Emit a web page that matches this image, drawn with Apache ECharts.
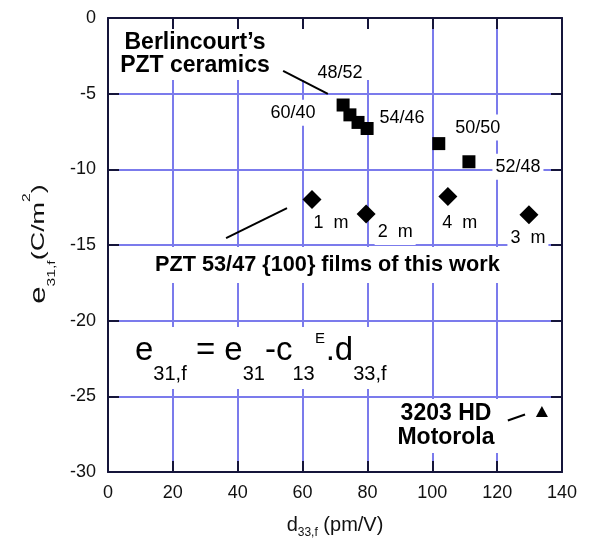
<!DOCTYPE html>
<html><head><meta charset="utf-8">
<script src="https://cdn.jsdelivr.net/npm/echarts@6.0.0/dist/echarts.min.js"></script>
<style>html,body{margin:0;padding:0;background:#fff}#c{width:589px;height:543px}</style>
</head><body><div id="c"></div>
<script>
const FONT = '"Liberation Sans", Arial, Helvetica, sans-serif';

// ---- data ----
const berlincourtX = [72.5, 74.6, 77.1, 79.9, 102.0, 111.3];
const berlincourtY = [-5.75, -6.4, -6.9, -7.3, -8.3, -9.5];
const berlincourtLabels = ['48/52', '60/40', '', '54/46', '50/50', '52/48'];

const filmX = [62.9, 79.6, 104.8, 129.8];
const filmY = [-12.0, -12.95, -11.8, -13.0];
const filmLabels = ['1  m', '2  m', '4  m', '3  m'];

const motorolaX = [133.8];
const motorolaY = [-26.0];

// connector lines (data coordinates): [x1, y1, x2, y2]
const connectorBerlincourt = [54.0, -3.5, 67.8, -5.02];
const connectorFilms = [36.4, -14.54, 55.2, -12.56];
const connectorMotorola = [123.3, -26.6, 128.6, -26.2];

// ---- styles ----
const GRID_COLOR = '#7b7bec';
const AX = '#15153a';
const sqLabelOffsets = [[-3, -32], [-57, -2], [0, 0], [35, -10], [39, -16], [49, 5]];
const dmLabelOffsets = [[19, 23], [29, 18], [12, 26], [-1, 23]];

const chart = echarts.init(document.getElementById('c'), null, {renderer: 'canvas'});

function axisBase(extra) {
  return Object.assign({
    type: 'value',
    axisLine: {show: true, onZero: false, lineStyle: {color: AX, width: 2}},
    axisTick: {show: true, inside: true, length: 11, lineStyle: {color: AX, width: 2}},
    axisLabel: {show: false},
    splitLine: {show: false},
    z: 5
  }, extra);
}
function gridAxis(extra) {
  return Object.assign({
    type: 'value',
    axisLine: {show: false}, axisTick: {show: false}, axisLabel: {show: false},
    splitLine: {show: true, lineStyle: {color: GRID_COLOR, width: 2}},
    z: 0
  }, extra);
}

const labelBase = {fontSize: 18, color: '#000', fontFamily: FONT, backgroundColor: '#fff', padding: [4, 3]};
const tickLabel = {show: true, fontSize: 18, color: '#111', fontFamily: FONT, margin: 12};

const option = {
  animation: false,
  backgroundColor: '#fff',
  grid: {left: 108, right: 27, top: 18, bottom: 71, outerBoundsMode: 'none'},
  xAxis: [
    axisBase({
      min: 0, max: 140, interval: 20, position: 'bottom',
      axisLabel: tickLabel,
      name: '{d|d}{s|33,f}{n| (pm/V)}',
      nameLocation: 'middle', nameGap: 39,
      nameTextStyle: {
        fontFamily: FONT, color: '#111',
        rich: {
          d: {fontSize: 20, lineHeight: 28, fontFamily: FONT, color: '#111'},
          s: {fontSize: 12, lineHeight: 12, verticalAlign: 'bottom', fontFamily: FONT, color: '#111'},
          n: {fontSize: 20, lineHeight: 28, fontFamily: FONT, color: '#111'}
        }
      }
    }),
    axisBase({min: 0, max: 140, interval: 20, position: 'top'}),
    gridAxis({min: 0, max: 140, interval: 20, position: 'bottom'})
  ],
  yAxis: [
    axisBase({min: -30, max: 0, interval: 5, position: 'left', axisLabel: tickLabel}),
    axisBase({min: -30, max: 0, interval: 5, position: 'right'}),
    gridAxis({min: -30, max: 0, interval: 5, position: 'left'})
  ],
  series: [
    {
      type: 'scatter', name: 'Berlincourt PZT ceramics', xAxisIndex: 0, yAxisIndex: 0,
      symbol: 'rect', symbolSize: 13, itemStyle: {color: '#000', opacity: 1}, z: 3,
      label: Object.assign({position: 'inside'}, labelBase),
      data: berlincourtX.map((x, i) => ({
        value: [x, berlincourtY[i]],
        label: {show: !!berlincourtLabels[i], formatter: berlincourtLabels[i], offset: sqLabelOffsets[i]}
      })),
      markLine: {
        silent: true, animation: false, symbol: ['none', 'none'],
        lineStyle: {color: '#000', width: 2, type: 'solid', opacity: 1},
        label: {show: false},
        data: [connectorBerlincourt, connectorFilms, connectorMotorola].map(c => [
          {coord: [c[0], c[1]]}, {coord: [c[2], c[3]]}
        ])
      }
    },
    {
      type: 'scatter', name: 'PZT 53/47 {100} films', xAxisIndex: 0, yAxisIndex: 0,
      symbol: 'diamond', symbolSize: 19, itemStyle: {color: '#000', opacity: 1}, z: 3,
      label: Object.assign({position: 'inside'}, labelBase),
      data: filmX.map((x, i) => ({
        value: [x, filmY[i]],
        label: {show: true, formatter: filmLabels[i], offset: dmLabelOffsets[i]}
      }))
    },
    {
      type: 'scatter', name: '3203 HD Motorola', xAxisIndex: 0, yAxisIndex: 0,
      symbol: 'triangle', symbolSize: [12, 11], itemStyle: {color: '#000', opacity: 1}, z: 3,
      data: motorolaX.map((x, i) => [x, motorolaY[i]])
    }
  ],
  graphic: [
    // white backing of the Berlincourt caption
    {type: 'rect', z: 1, shape: {x: 109, y: 19, width: 260, height: 61}, style: {fill: '#fff'}},
    {
      type: 'text', x: 195, y: 54, z: 2,
      style: {
        text: "Berlincourt\u2019s\nPZT ceramics", fontFamily: FONT, fontWeight: 'bold', fontSize: 23,
        lineHeight: 23, fill: '#000', align: 'center', verticalAlign: 'middle'
      }
    },
    {
      type: 'text', x: 147, y: 265, z: 2,
      style: {
        text: 'PZT 53/47 {100} films of this work', fontFamily: FONT, fontWeight: 'bold', fontSize: 21.7,
        lineHeight: 24, fill: '#000', align: 'left', verticalAlign: 'middle',
        backgroundColor: '#fff', padding: [6, 8]
      }
    },
    // white backing of the formula
    {type: 'rect', z: 1, shape: {x: 128, y: 327, width: 268, height: 62}, style: {fill: '#fff'}},
    {
      type: 'text', x: 135, y: 351, z: 2,
      style: {
        text: '{e|e}{s|31,f}{e| = e}{s|31}{e|-c}{s|13}{g| }{e|.d}{s|33,f}',
        fontFamily: FONT, fill: '#000', align: 'left', verticalAlign: 'middle',
        rich: {
          e: {fontSize: 33, lineHeight: 66, fontFamily: FONT, fill: '#000'},
          s: {fontSize: 20, lineHeight: 24, verticalAlign: 'bottom', fontFamily: FONT, fill: '#000'},
          g: {fontSize: 15, width: 11, lineHeight: 15, fontFamily: FONT, fill: '#000'}
        }
      }
    },
    {
      type: 'text', x: 315, y: 339, z: 2,
      style: {
        text: 'E', fontFamily: FONT, fontSize: 15, fill: '#000', align: 'left', verticalAlign: 'middle'
      }
    },
    {
      type: 'text', x: 446, y: 426, z: 2,
      style: {
        text: '3203 HD\nMotorola', fontFamily: FONT, fontWeight: 'bold', fontSize: 23,
        lineHeight: 24, fill: '#000', align: 'center', verticalAlign: 'middle',
        backgroundColor: '#fff', padding: [3, 4]
      }
    },
    // y-axis title
    {
      type: 'text', x: 39, y: 244, z: 2, rotation: Math.PI / 2, scaleX: 1.42,
      style: {
        text: '{e|e}{s|31,f}{n|(C/m}{p|2}{n|)}',
        fontFamily: FONT, fill: '#111', align: 'center', verticalAlign: 'middle',
        rich: {
          e: {fontSize: 22, lineHeight: 36, fontFamily: FONT, fill: '#111'},
          s: {fontSize: 11, lineHeight: 21, verticalAlign: 'bottom', fontFamily: FONT, fill: '#111'},
          n: {fontSize: 19, lineHeight: 36, fontFamily: FONT, fill: '#111'},
          p: {fontSize: 11, lineHeight: 11, verticalAlign: 'top', fontFamily: FONT, fill: '#111'}
        }
      }
    }
  ]
};
chart.setOption(option);
</script>
</body></html>
